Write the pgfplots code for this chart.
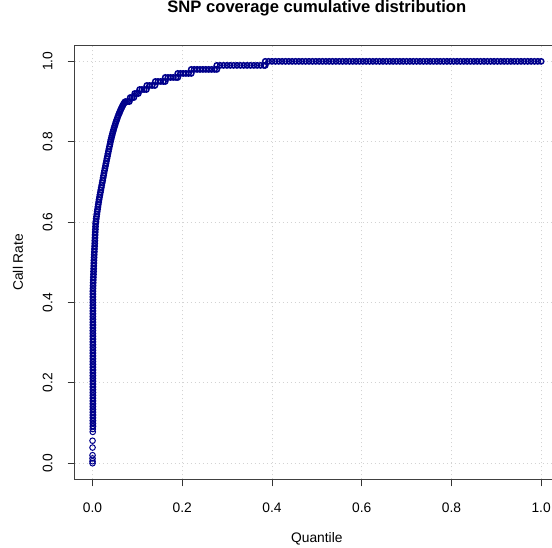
\documentclass[border=0pt]{standalone}
\usepackage{pgfplots}
\pgfplotsset{compat=1.18}
\usepackage{fontspec}
\setmainfont{Liberation Sans}
\definecolor{rdarkblue}{HTML}{00008B}
\definecolor{rlightgray}{HTML}{D3D3D3}
\begin{document}
\begin{tikzpicture}
\path[use as bounding box] (-74.6pt,-67.7pt) rectangle (477.4pt,479.3pt);
\begin{axis}[
  at={(0,0)}, anchor=south west,
  scale only axis, width=484.5pt, height=434pt,
  xmin=-0.04, xmax=1.04, ymin=-0.04, ymax=1.04,
  xtick={0,0.2,0.4,0.6,0.8,1}, xticklabels={0.0,0.2,0.4,0.6,0.8,1.0},
  ytick={0,0.2,0.4,0.6,0.8,1}, yticklabels={0.0,0.2,0.4,0.6,0.8,1.0},
  xtick pos=bottom, ytick pos=left,
  tick align=outside, major tick length=7pt,
  tick style={black!80, line width=0.8pt},
  axis line style={black!75, line width=0.9pt},
  grid=major,
  grid style={rlightgray, line width=0.8pt, dash pattern=on 1pt off 3pt},
  /pgf/number format/assume math mode=true,
  tick label style={font=\fontsize{13.8}{16}\selectfont},
  xticklabel style={anchor=base, yshift=-26pt},
  yticklabel style={xshift=-15.3pt, rotate=90, anchor=base},
  label style={font=\fontsize{13.8}{16}\selectfont},
  xlabel={Quantile},
  xlabel style={at={(axis description cs:0.5,-0.1445)}, anchor=base},
  ylabel={Call Rate},
  ylabel style={at={(axis description cs:-0.1065,0.5)}, anchor=base, rotate=0},
  title={SNP coverage cumulative distribution},
  title style={at={(axis description cs:0.5,1.0622)}, anchor=base, font=\fontsize{16.6}{20}\selectfont\bfseries},
]
\addplot[only marks, mark=o, mark size=2.8pt, rdarkblue, mark options={line width=1pt}] table[row sep=\\] {
x y\\
0 0\\ 0 0.005\\ 0 0.012\\ 0 0.020\\ 0 0.039\\ 0 0.056\\ 0.0005 0.078\\ 0.0005 0.085\\
};
\addplot[only marks, mark=o, mark size=2.65pt, rdarkblue, mark options={line width=1.5pt}] table[row sep=\\] {
x y\\
0.0008 0.092\\ 0.0008 0.099\\ 0.0008 0.106\\ 0.0008 0.113\\ 0.0008 0.120\\ 0.0008 0.127\\ 0.0008 0.134\\ 0.0008 0.141\\
0.0008 0.148\\ 0.0008 0.155\\ 0.0008 0.162\\ 0.0008 0.169\\ 0.0008 0.176\\ 0.0008 0.183\\ 0.0008 0.190\\ 0.0008 0.197\\
0.0008 0.204\\ 0.0008 0.211\\ 0.0008 0.218\\ 0.0008 0.225\\ 0.0008 0.232\\ 0.0008 0.239\\ 0.0008 0.246\\ 0.0008 0.253\\
0.0008 0.260\\ 0.0008 0.267\\ 0.0008 0.274\\ 0.0008 0.281\\ 0.0008 0.288\\ 0.0008 0.295\\ 0.0008 0.302\\ 0.0008 0.309\\
0.0008 0.316\\ 0.0008 0.323\\ 0.0008 0.330\\ 0.0008 0.337\\ 0.0008 0.344\\ 0.0008 0.351\\ 0.0008 0.358\\ 0.0008 0.365\\
0.0008 0.372\\ 0.0008 0.379\\ 0.0008 0.386\\ 0.0008 0.393\\ 0.0008 0.400\\ 0.0008 0.407\\ 0.0008 0.414\\ 0.0008 0.421\\
0.0008 0.428\\
0.0010 0.435\\ 0.0012 0.442\\ 0.0014 0.449\\ 0.0016 0.456\\ 0.0018 0.463\\ 0.0021 0.470\\ 0.0023 0.477\\ 0.0025 0.484\\
0.0027 0.491\\ 0.0029 0.498\\ 0.0031 0.505\\ 0.0034 0.512\\ 0.0037 0.519\\ 0.0040 0.526\\ 0.0043 0.533\\ 0.0046 0.540\\
0.0049 0.547\\ 0.0051 0.554\\ 0.0054 0.561\\ 0.0057 0.568\\ 0.0060 0.575\\ 0.0063 0.582\\ 0.0066 0.589\\ 0.0069 0.596\\
0.0075 0.602\\ 0.0082 0.608\\ 0.0089 0.614\\ 0.0096 0.620\\ 0.0104 0.626\\ 0.0112 0.632\\ 0.0120 0.638\\ 0.0128 0.644\\
0.0137 0.650\\ 0.0145 0.656\\ 0.0155 0.662\\ 0.0165 0.668\\ 0.0175 0.674\\ 0.0185 0.680\\ 0.0195 0.686\\ 0.0205 0.692\\
0.0216 0.698\\ 0.0226 0.704\\ 0.0236 0.710\\ 0.0246 0.716\\ 0.0256 0.722\\ 0.0266 0.728\\ 0.0277 0.734\\ 0.0288 0.740\\
0.0299 0.746\\ 0.0310 0.752\\ 0.0321 0.758\\ 0.0332 0.764\\ 0.0343 0.770\\ 0.0354 0.776\\ 0.0365 0.782\\ 0.0377 0.788\\
0.0389 0.794\\ 0.0400 0.800\\ 0.0410 0.805\\ 0.0421 0.810\\ 0.0432 0.815\\ 0.0444 0.820\\ 0.0456 0.825\\ 0.0469 0.830\\
0.0482 0.835\\ 0.0496 0.840\\ 0.0510 0.845\\ 0.0525 0.850\\ 0.0540 0.855\\ 0.0556 0.860\\ 0.0573 0.865\\ 0.0591 0.870\\
0.0606 0.874\\ 0.0622 0.878\\ 0.0638 0.882\\ 0.0655 0.886\\ 0.0672 0.890\\ 0.0688 0.893\\ 0.0704 0.896\\ 0.0721 0.899\\
0.074 0.90\\ 0.078 0.90\\ 0.082 0.90\\
0.084 0.91\\ 0.088 0.91\\ 0.092 0.91\\
0.094 0.92\\ 0.098 0.92\\ 0.102 0.92\\
0.105 0.93\\ 0.110 0.93\\ 0.115 0.93\\ 0.120 0.93\\
0.121 0.94\\ 0.127 0.94\\ 0.133 0.94\\ 0.139 0.94\\
0.140 0.95\\ 0.146 0.95\\ 0.152 0.95\\ 0.158 0.95\\ 0.162 0.95\\
0.162 0.96\\ 0.168 0.96\\ 0.174 0.96\\ 0.180 0.96\\ 0.186 0.96\\ 0.190 0.96\\
0.190 0.97\\ 0.196 0.97\\ 0.202 0.97\\ 0.208 0.97\\ 0.214 0.97\\ 0.220 0.97\\
0.220 0.98\\ 0.2265 0.98\\ 0.233 0.98\\ 0.2395 0.98\\ 0.246 0.98\\ 0.2525 0.98\\ 0.259 0.98\\ 0.2655 0.98\\ 0.272 0.98\\ 0.277 0.98\\
0.277 0.99\\ 0.2845 0.99\\ 0.292 0.99\\ 0.2995 0.99\\ 0.307 0.99\\ 0.3145 0.99\\ 0.322 0.99\\ 0.3295 0.99\\
0.337 0.99\\ 0.3445 0.99\\ 0.352 0.99\\ 0.3595 0.99\\ 0.367 0.99\\ 0.3745 0.99\\ 0.382 0.99\\ 0.385 0.99\\
0.385 1\\ 0.3925 1\\ 0.400 1\\ 0.4075 1\\ 0.415 1\\ 0.4225 1\\ 0.430 1\\ 0.4375 1\\ 0.445 1\\ 0.4525 1\\
0.460 1\\ 0.4675 1\\ 0.475 1\\ 0.4825 1\\ 0.490 1\\ 0.4975 1\\ 0.505 1\\ 0.5125 1\\ 0.520 1\\ 0.5275 1\\
0.535 1\\ 0.5425 1\\ 0.550 1\\ 0.5575 1\\ 0.565 1\\ 0.5725 1\\ 0.580 1\\ 0.5875 1\\ 0.595 1\\ 0.6025 1\\
0.610 1\\ 0.6175 1\\ 0.625 1\\ 0.6325 1\\ 0.640 1\\ 0.6475 1\\ 0.655 1\\ 0.6625 1\\ 0.670 1\\ 0.6775 1\\
0.685 1\\ 0.6925 1\\ 0.700 1\\ 0.7075 1\\ 0.715 1\\ 0.7225 1\\ 0.730 1\\ 0.7375 1\\ 0.745 1\\ 0.7525 1\\
0.760 1\\ 0.7675 1\\ 0.775 1\\ 0.7825 1\\ 0.790 1\\ 0.7975 1\\ 0.805 1\\ 0.8125 1\\ 0.820 1\\ 0.8275 1\\
0.835 1\\ 0.8425 1\\ 0.850 1\\ 0.8575 1\\ 0.865 1\\ 0.8725 1\\ 0.880 1\\ 0.8875 1\\ 0.895 1\\ 0.9025 1\\
0.910 1\\ 0.9175 1\\ 0.925 1\\ 0.9325 1\\ 0.940 1\\ 0.9475 1\\ 0.955 1\\ 0.9625 1\\ 0.970 1\\ 0.9775 1\\
0.985 1\\ 0.9925 1\\ 1.000 1\\
};
\end{axis}
\end{tikzpicture}
\end{document}
